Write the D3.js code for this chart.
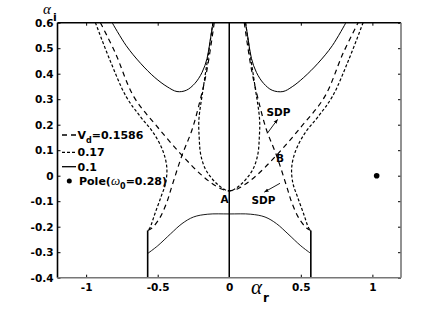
<!DOCTYPE html>
<html>
<head>
<meta charset="utf-8">
<script src="https://cdn.jsdelivr.net/npm/d3@7"></script>
<style>
  html, body { margin: 0; padding: 0; background: #fff; }
  text { font-family: "DejaVu Sans", sans-serif; font-weight: bold; }
</style>
</head>
<body>
<div id="chart"></div>
<script>
// V_d = 0.1586 (long dash): outer V through A, and the two inner branches crossing at the saddles
var vd1586Outer = [[-0.90,0.60],[-0.795,0.48],[-0.667,0.31],[-0.50,0.19],[-0.33,0.08],[-0.18,-0.004],[-0.063,-0.05],[0,-0.059],
                   [0.063,-0.05],[0.18,-0.004],[0.33,0.08],[0.50,0.19],[0.667,0.31],[0.795,0.48],[0.90,0.60]];
var vd1586InnerL = [[-0.105,0.60],[-0.156,0.414],[-0.203,0.297],[-0.26,0.18],[-0.33,0.08],[-0.40,-0.04],[-0.44,-0.11],[-0.49,-0.17],[-0.54,-0.205],[-0.57,-0.215]];
var vd1586InnerR = [[0.105,0.60],[0.156,0.414],[0.203,0.297],[0.26,0.18],[0.33,0.08],[0.40,-0.04],[0.44,-0.11],[0.49,-0.17],[0.54,-0.205],[0.57,-0.215]];
// V_d = 0.17 (short dash)
var vd17OuterL = [[-0.935,0.60],[-0.835,0.455],[-0.72,0.31],[-0.62,0.231],[-0.53,0.168],[-0.462,0.095],[-0.436,0.03],[-0.445,-0.03],[-0.475,-0.08],[-0.52,-0.15],[-0.555,-0.205],[-0.57,-0.215]];
var vd17OuterR = [[0.935,0.60],[0.835,0.455],[0.72,0.31],[0.62,0.231],[0.53,0.168],[0.462,0.095],[0.436,0.03],[0.445,-0.03],[0.475,-0.08],[0.52,-0.15],[0.555,-0.205],[0.57,-0.215]];
var vd17Inner = [[-0.114,0.60],[-0.145,0.48],[-0.18,0.35],[-0.212,0.22],[-0.21,0.15],[-0.20,0.085],[-0.17,0.03],[-0.13,-0.005],[-0.08,-0.035],[-0.03,-0.055],[0,-0.06],
                 [0.03,-0.055],[0.08,-0.035],[0.13,-0.005],[0.17,0.03],[0.20,0.085],[0.21,0.15],[0.212,0.22],[0.18,0.35],[0.145,0.48],[0.114,0.60]];
// V_d = 0.1 (solid)
var vd01UpperL = [[-0.818,0.60],[-0.72,0.51],[-0.62,0.441],[-0.52,0.385],[-0.434,0.349],[-0.365,0.33],[-0.30,0.335],[-0.24,0.362],[-0.19,0.405],[-0.155,0.46],[-0.133,0.532],[-0.114,0.60]];
var vd01UpperR = [[0.114,0.60],[0.133,0.532],[0.155,0.46],[0.19,0.405],[0.24,0.362],[0.30,0.335],[0.375,0.33],[0.44,0.349],[0.52,0.385],[0.62,0.441],[0.72,0.51],[0.815,0.60]];
var vd01Lower = [[-0.57,-0.305],[-0.50,-0.275],[-0.41,-0.228],[-0.33,-0.188],[-0.25,-0.162],[-0.15,-0.151],[0,-0.15],
                 [0.15,-0.151],[0.25,-0.162],[0.33,-0.188],[0.41,-0.228],[0.50,-0.275],[0.57,-0.305]];
// branch cuts (vertical) and the x = 0 line
var cutL = [[-0.57,-0.215],[-0.57,-0.40]];
var cutR = [[0.57,-0.215],[0.57,-0.40]];
var axisZero = [[0,0.60],[0,-0.40]];
var pole = [1.03, 0];

var xTicks = [-1, -0.5, 0, 0.5, 1];
var xTickLabels = ["-1", "-0.5", "0", "0.5", "1"];
var yTicks = [0.6, 0.5, 0.4, 0.3, 0.2, 0.1, 0, -0.1, -0.2, -0.3, -0.4];
var yTickLabels = ["0.6", "0.5", "0.4", "0.3", "0.2", "0.1", "0", "-0.1", "-0.2", "-0.3", "-0.4"];

var W = 443, H = 312;
var L = 57.5, T = 22.7, R = 401, B = 277.7;

var svg = d3.select("#chart").append("svg")
	.attr("width", W)
	.attr("height", H);

var x = d3.scaleLinear().domain([-1.2, 1.2]).range([L, R]);
var y = d3.scaleLinear().domain([-0.4, 0.6]).range([B, T]);

svg.append("clipPath").attr("id", "clip")
	.append("rect").attr("x", L).attr("y", T).attr("width", R - L).attr("height", B - T);

var line = d3.line().x(function(d) { return x(d[0]); }).y(function(d) { return y(d[1]); })
	.curve(d3.curveCatmullRom.alpha(0.5));
var straight = d3.line().x(function(d) { return x(d[0]); }).y(function(d) { return y(d[1]); });

var longDash = "5,4", shortDash = "3,2";
var curves = [
	{ d: vd1586Outer, dash: longDash, w: 1.2 },
	{ d: vd1586InnerL, dash: longDash, w: 1.2 },
	{ d: vd1586InnerR, dash: longDash, w: 1.2 },
	{ d: vd17OuterL, dash: shortDash, w: 1.2 },
	{ d: vd17OuterR, dash: shortDash, w: 1.2 },
	{ d: vd17Inner, dash: shortDash, w: 1.2 },
	{ d: vd01UpperL, dash: null, w: 1 },
	{ d: vd01UpperR, dash: null, w: 1 },
	{ d: vd01Lower, dash: null, w: 0.9 }
];

var g = svg.append("g").attr("clip-path", "url(#clip)");
g.selectAll("path.curve").data(curves).enter().append("path")
	.attr("class", "curve")
	.attr("d", function(c) { return line(c.d); })
	.attr("fill", "none")
	.attr("stroke", "#000")
	.attr("stroke-width", function(c) { return c.w; })
	.attr("stroke-dasharray", function(c) { return c.dash; });

g.selectAll("path.cut").data([cutL, cutR, axisZero]).enter().append("path")
	.attr("class", "cut")
	.attr("d", straight)
	.attr("fill", "none")
	.attr("stroke", "#000")
	.attr("stroke-width", function(d, i) { return i == 2 ? 1.5 : 1.6; });

g.append("circle").attr("cx", x(pole[0])).attr("cy", y(pole[1])).attr("r", 2.8).attr("fill", "#000");

// axes
var yAxis = d3.axisLeft(y).tickValues(yTicks).tickSize(-3).tickPadding(4)
	.tickFormat(function(d, i) { return yTickLabels[i]; });
var xAxis = d3.axisBottom(x).tickValues(xTicks).tickSize(-3).tickPadding(6)
	.tickFormat(function(d, i) { return xTickLabels[i]; });

var ya = svg.append("g").attr("transform", "translate(" + L + ",0)").call(yAxis);
var xa = svg.append("g").attr("transform", "translate(0," + B + ")").call(xAxis);
var ra = svg.append("g").attr("transform", "translate(" + R + ",0)").call(d3.axisRight(y).tickValues(yTicks).tickSize(-3).tickFormat(""));
var ta = svg.append("g").attr("transform", "translate(0," + T + ")").call(d3.axisTop(x).tickValues([-1, -0.5, 0.5, 1]).tickSize(-3).tickFormat(""));
[ya, xa, ra, ta].forEach(function(a) {
	a.select(".domain").remove();
	a.selectAll("text").attr("font-family", "DejaVu Sans").attr("font-weight", "bold").attr("font-size", 10.5).attr("fill", "#000");
	a.selectAll("line").attr("stroke", "#000");
});
xa.selectAll(".tick").filter(function(d) { return d === 0; }).select("line").remove();

// frame
svg.append("line").attr("x1", L).attr("x2", L).attr("y1", T).attr("y2", B).attr("stroke", "#000").attr("stroke-width", 1.6);
svg.append("line").attr("x1", L).attr("x2", R).attr("y1", T).attr("y2", T).attr("stroke", "#000").attr("stroke-width", 1.6);
svg.append("line").attr("x1", R).attr("x2", R).attr("y1", T).attr("y2", B).attr("stroke", "#777").attr("stroke-width", 1.6);
svg.append("line").attr("x1", L).attr("x2", R).attr("y1", B).attr("y2", B).attr("stroke", "#777").attr("stroke-width", 1.6);

// axis titles
var ti = svg.append("text").attr("x", 43).attr("y", 14);
ti.append("tspan").attr("font-family", "Liberation Serif").attr("font-style", "italic").attr("font-weight", "normal").attr("font-size", 15).text("α");
ti.append("tspan").attr("font-size", 11).attr("dx", 2).attr("dy", 6.5).text("i");
var tr = svg.append("text").attr("x", 251).attr("y", 293.5);
tr.append("tspan").attr("font-family", "Liberation Serif").attr("font-style", "italic").attr("font-weight", "normal").attr("font-size", 21).text("α");
tr.append("tspan").attr("font-size", 12).attr("dx", 1).attr("dy", 8).text("r");

// legend
var legX = 62, legW = 14;
var leg = svg.append("g");
var legRows = [{ y: 135, dash: longDash }, { y: 152.3, dash: shortDash }, { y: 166.7, dash: null }];
leg.selectAll("line").data(legRows).enter().append("line")
	.attr("x1", legX).attr("x2", legX + legW)
	.attr("y1", function(d) { return d.y; }).attr("y2", function(d) { return d.y; })
	.attr("stroke", "#000").attr("stroke-width", 1.3)
	.attr("stroke-dasharray", function(d) { return d.dash; });
var t1 = leg.append("text").attr("x", 77.5).attr("y", 139).attr("font-size", 11);
t1.append("tspan").text("V");
t1.append("tspan").attr("font-size", 8).attr("dy", 3.5).text("d");
t1.append("tspan").attr("dy", -3.5).text("=0.1586");
leg.append("text").attr("x", 77.5).attr("y", 156.3).attr("font-size", 11).text("0.17");
leg.append("text").attr("x", 77.5).attr("y", 170.7).attr("font-size", 11).text("0.1");
leg.append("circle").attr("cx", 69.3).attr("cy", 181).attr("r", 2.5).attr("fill", "#000");
var t4 = leg.append("text").attr("x", 79).attr("y", 185).attr("font-size", 11);
t4.append("tspan").text("Pole(");
t4.append("tspan").attr("font-family", "Liberation Serif").attr("font-style", "italic").attr("font-weight", "normal").attr("font-size", 13).text("ω");
t4.append("tspan").attr("font-size", 8).attr("dy", 3.5).text("0");
t4.append("tspan").attr("dy", -3.5).text("=0.28)");

// annotations
svg.append("defs").append("marker").attr("id", "arr")
	.attr("viewBox", "0 0 10 10").attr("refX", 9).attr("refY", 5)
	.attr("markerWidth", 5).attr("markerHeight", 5).attr("orient", "auto")
	.append("path").attr("d", "M0,1 L10,5 L0,9 z").attr("fill", "#000");
svg.append("line").attr("x1", 267.3).attr("y1", 133.3).attr("x2", 277.5).attr("y2", 119.5)
	.attr("stroke", "#000").attr("stroke-width", 0.9).attr("marker-end", "url(#arr)");
svg.append("line").attr("x1", 280).attr("y1", 183.3).attr("x2", 264.5).attr("y2", 192)
	.attr("stroke", "#000").attr("stroke-width", 0.9).attr("marker-end", "url(#arr)");
svg.append("text").attr("x", 266.5).attr("y", 115.5).attr("font-size", 10.5).text("SDP");
svg.append("text").attr("x", 251.5).attr("y", 204).attr("font-size", 10.5).text("SDP");
svg.append("text").attr("x", 224.5).attr("y", 203).attr("text-anchor", "middle").attr("font-size", 10.5).text("A");
svg.append("text").attr("x", 280).attr("y", 162).attr("text-anchor", "middle").attr("font-size", 10.5).text("B");
</script>
</body>
</html>
